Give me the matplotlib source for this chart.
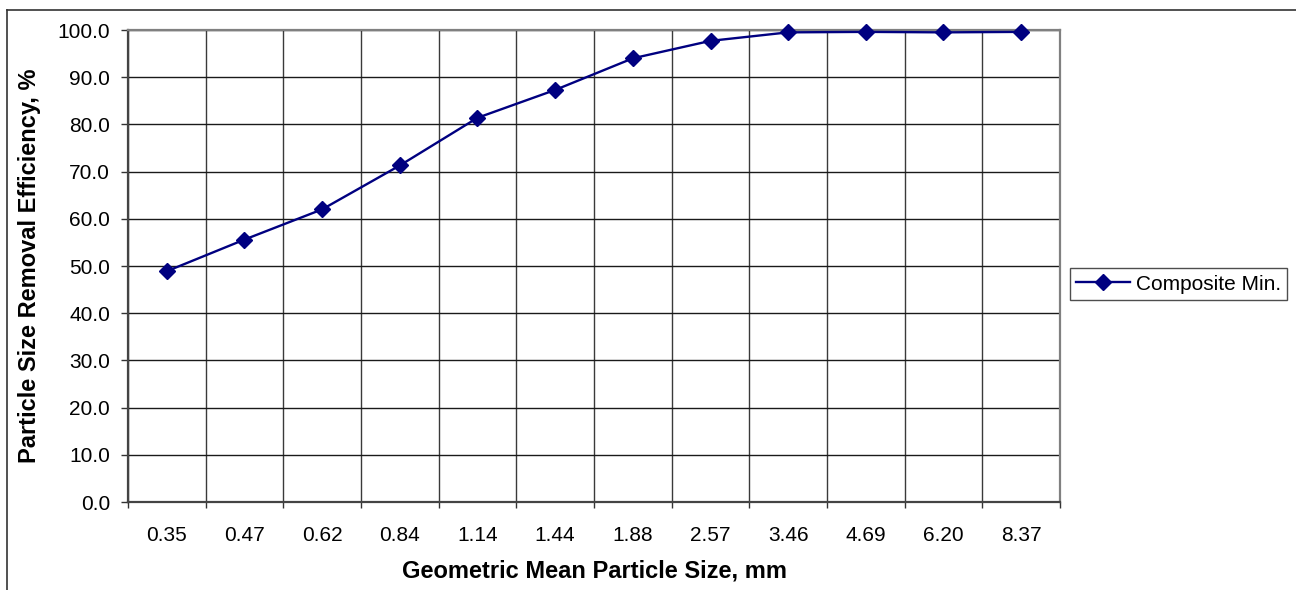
import numpy as np
import matplotlib
matplotlib.use('Agg')
import matplotlib.pyplot as plt
from matplotlib.lines import Line2D

# Particle size categories (mm) and removal efficiency (%)
sizes = ['0.35', '0.47', '0.62', '0.84', '1.14', '1.44', '1.88', '2.57', '3.46', '4.69', '6.20', '8.37']
efficiency = [48.9, 55.6, 62.0, 71.3, 81.4, 87.3, 94.0, 97.7, 99.5, 99.6, 99.5, 99.6]
y_ticks = [0, 10, 20, 30, 40, 50, 60, 70, 80, 90, 100]

plt.rcParams['font.family'] = ['Liberation Sans', 'DejaVu Sans']

W, H = 1296, 590
fig = plt.figure(figsize=(W / 100, H / 100), dpi=100)

left, right, top, bottom = 128, 1060, 30, 502
ax = fig.add_axes([left / W, 1 - bottom / H, (right - left) / W, (bottom - top) / H])

x = np.arange(len(sizes))
ax.plot(x, efficiency, color='#000080', linewidth=1.7, marker='D', markersize=8.5,
        markerfacecolor='#000080', markeredgecolor='#000080', label='Composite Min.',
        clip_on=False, zorder=3)

ax.set_xlim(-0.5, len(sizes) - 0.5)
ax.set_ylim(0, 100)

# category axis: labels at centres, ticks and grid at the boundaries
ax.set_xticks(x)
ax.set_xticklabels(sizes)
ax.set_xticks(np.arange(-0.5, len(sizes) + 0.5, 1), minor=True)
ax.tick_params(axis='x', which='major', length=0, pad=17.5, labelsize=15)
ax.tick_params(axis='x', which='minor', length=4.5, width=1, color='#333333')
ax.grid(True, axis='x', which='minor', color='#3a3a3a', linewidth=1)

ax.set_yticks(y_ticks)
ax.set_yticklabels([f'{v:.1f}' for v in y_ticks])
ax.tick_params(axis='y', length=5, width=1, pad=8, labelsize=15, color='#333333')
ax.grid(True, axis='y', which='major', color='#1a1a1a', linewidth=1)
ax.set_axisbelow(True)

for side in ['top', 'right']:
    ax.spines[side].set_color('#808080')
    ax.spines[side].set_linewidth(1.6)
for side in ['left', 'bottom']:
    ax.spines[side].set_color('#444444')
    ax.spines[side].set_linewidth(1.6)

ax.set_xlabel('Geometric Mean Particle Size, mm', fontsize=17, fontweight='bold', labelpad=10.5)
ax.set_ylabel('Particle Size Removal Efficiency, %', fontsize=17, fontweight='bold', labelpad=12)

leg = fig.legend(loc='center left', bbox_to_anchor=(1070 / W, 1 - 284 / H),
                 fontsize=15, frameon=True, fancybox=False, handlelength=2.6,
                 borderpad=0.3, borderaxespad=0, handletextpad=0.25)
leg.get_frame().set_edgecolor('#222222')
leg.get_frame().set_linewidth(1)

# outer chart border (top and left edges are visible in the crop)
fig.add_artist(Line2D([7 / W, 1], [1 - 10 / H, 1 - 10 / H], transform=fig.transFigure,
                      color='#333333', linewidth=1.2))
fig.add_artist(Line2D([7 / W, 7 / W], [0, 1 - 10 / H], transform=fig.transFigure,
                      color='#333333', linewidth=1.2))

fig.savefig('out.png', dpi=100)
